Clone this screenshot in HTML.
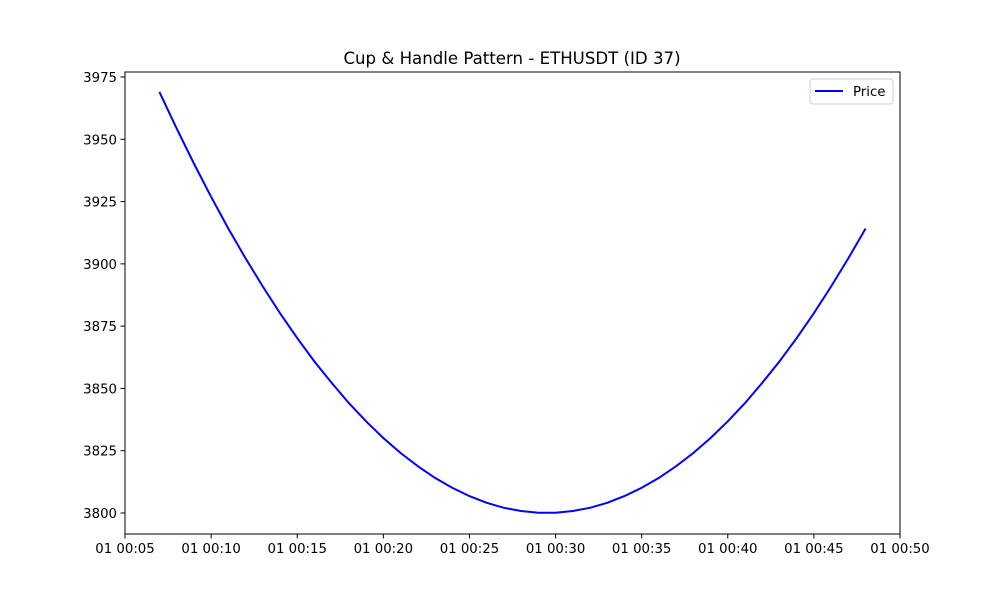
<!DOCTYPE html>
<html><head><meta charset="utf-8"><style>
body{margin:0;background:#fff;}
svg text{font-family:"DejaVu Sans","Liberation Sans",sans-serif;font-size:13.3px;fill:#000;}
</style></head><body>
<svg id="chart" width="1000" height="600">
<rect width="1000" height="600" fill="#fff"/>
<text x="512" y="64" text-anchor="middle" style="font-size:16.6px">Cup &amp; Handle Pattern - ETHUSDT (ID 37)</text>
<g id="ticks"></g>
<path id="line" fill="none" stroke="#0000ff" stroke-width="2"/>
<rect x="125" y="72" width="775" height="462" fill="none" stroke="#000" stroke-width="1"/>
<g>
<rect x="810" y="79" width="83" height="25" rx="3" fill="#fff" stroke="#ccc"/>
<line x1="815" y1="91" x2="843" y2="91" stroke="#0000ff" stroke-width="2"/>
<text x="853" y="96">Price</text>
</g>
</svg>
<script>
const minutes=[7,8,9,10,11,12,13,14,15,16,17,18,19,20,21,22,23,24,25,26,27,28,29,30,31,32,33,34,35,36,37,38,39,40,41,42,43,44,45,46,47,48];
const prices=[3969.0,3954.3,3940.3,3926.9,3914.2,3902.2,3890.9,3880.2,3870.2,3860.8,3852.2,3844.1,3836.8,3830.1,3824.1,3818.8,3814.1,3810.1,3806.8,3804.1,3802.1,3800.8,3800.1,3800.1,3800.8,3802.1,3804.1,3806.8,3810.1,3814.1,3818.8,3824.1,3830.1,3836.8,3844.1,3852.2,3860.8,3870.2,3880.2,3890.9,3902.2,3914.2];
const xTicks=[5,10,15,20,25,30,35,40,45,50];
const xTickLabels=["01 00:05","01 00:10","01 00:15","01 00:20","01 00:25","01 00:30","01 00:35","01 00:40","01 00:45","01 00:50"];
const yTicks=[3800,3825,3850,3875,3900,3925,3950,3975];
const X=m=>125+(m-5)*(775/45);
const Y=v=>513-(v-3800)*(436/175);
const ns="http://www.w3.org/2000/svg";
const g=document.getElementById('ticks');
xTicks.forEach((t,i)=>{
 const l=document.createElementNS(ns,'line');
 l.setAttribute('x1',X(t));l.setAttribute('x2',X(t));l.setAttribute('y1',534);l.setAttribute('y2',538.5);l.setAttribute('stroke','#000');
 
 
 g.appendChild(l);
 const tx=document.createElementNS(ns,'text');
 tx.setAttribute('x',X(t));tx.setAttribute('y',553);tx.setAttribute('text-anchor','middle');tx.textContent=xTickLabels[i];
 
 
 g.appendChild(tx);
});
yTicks.forEach(t=>{
 const l=document.createElementNS(ns,'line');
 l.setAttribute('x1',120.5);l.setAttribute('x2',125);l.setAttribute('y1',Y(t));l.setAttribute('y2',Y(t));l.setAttribute('stroke','#000');
 
 
 g.appendChild(l);
 const tx=document.createElementNS(ns,'text');
 tx.setAttribute('x',117);tx.setAttribute('y',Y(t)+5);tx.setAttribute('text-anchor','end');tx.textContent=t;
 
 
 g.appendChild(tx);
});
document.getElementById('line').setAttribute('d',minutes.map((m,i)=>(i?'L':'M')+X(m).toFixed(1)+','+Y(prices[i]).toFixed(1)).join(''));
</script>
</body></html>
